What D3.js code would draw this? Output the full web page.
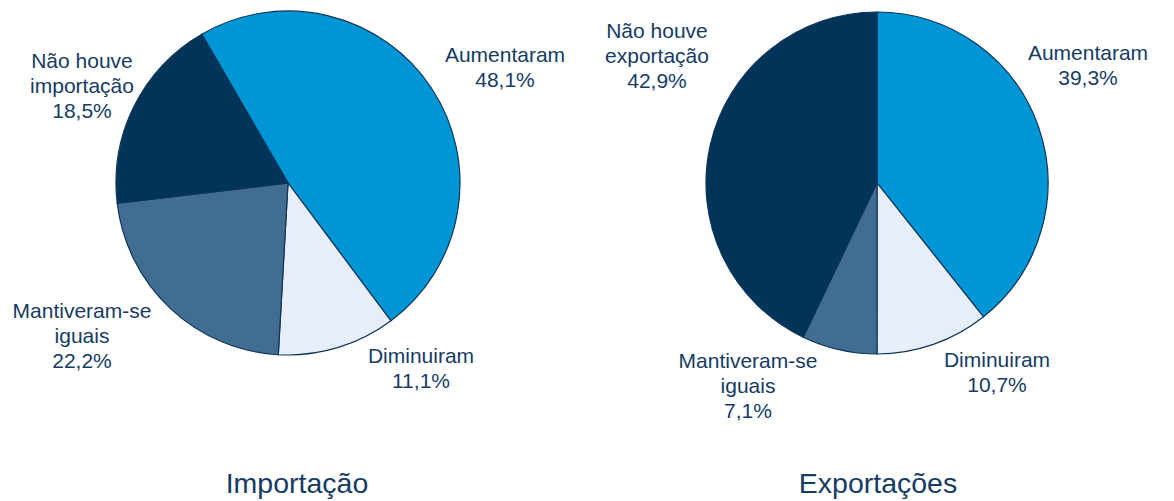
<!DOCTYPE html>
<html lang="pt">

<head>
    <meta charset="utf-8">
    <script src="https://d3js.org/d3.v7.min.js"></script>
    <style>
        body {
            margin: 0;
            background: #ffffff;
        }

        .slice {
            stroke: #0d3558;
            stroke-width: 1.2;
        }

        .label {
            font-family: "Liberation Sans", Arial, sans-serif;
            font-size: 21px;
            fill: #163c64;
        }

        .title {
            font-family: "Liberation Sans", Arial, sans-serif;
            font-size: 28.5px;
            fill: #163c64;
        }
    </style>
</head>

<body>
    <svg width="1174" height="501"></svg>

    <script>
        // categories, in drawing order (clockwise)
        var categories = ["Aumentaram", "Diminuiram", "Mantiveram-se iguais", "Não houve"];

        // shares, in %
        var importValues = [48.1, 11.1, 22.2, 18.5];
        var exportValues = [39.3, 10.7, 7.1, 42.9];

        // text shown on the labels
        var importLabels = [["Aumentaram"], ["Diminuiram"], ["Mantiveram-se", "iguais"], ["Não houve", "importação"]];
        var exportLabels = [["Aumentaram"], ["Diminuiram"], ["Mantiveram-se", "iguais"], ["Não houve", "exportação"]];

        var titles = ["Importação", "Exportações"];

        var color = d3.scaleOrdinal()
            .domain(categories)
            .range(["#0096d6", "#e8eef8", "#426d92", "#003459"]);

        var svg = d3.select("svg");

        // layout for each pie
        var pies = [{
                values: importValues,
                labels: importLabels,
                title: titles[0],
                cx: 288,
                cy: 183,
                r: 172,
                start: -30.1, // degrees, pie rotated
                labelPos: [[505, 62], [421, 363], [82, 318], [82, 68]],
                titleX: 297
            },
            {
                values: exportValues,
                labels: exportLabels,
                title: titles[1],
                cx: 877,
                cy: 183,
                r: 171,
                start: 0,
                labelPos: [[1088, 60], [997, 367], [748, 368], [657, 38]],
                titleX: 878
            }
        ];

        pies.forEach(function (p) {
            var data = categories.map(function (c, i) {
                return { cat: c, value: p.values[i], lines: p.labels[i] };
            });

            var pie = d3.pie()
                .sort(null)
                .value(function (d) { return d.value; })
                .startAngle(p.start * Math.PI / 180)
                .endAngle((p.start + 360) * Math.PI / 180);

            var arc = d3.arc().innerRadius(0).outerRadius(p.r);

            var g = svg.append("g")
                .attr("transform", "translate(" + p.cx + "," + p.cy + ")");

            g.selectAll(".slice")
                .data(pie(data))
                .enter().append("path")
                .attr("class", "slice")
                .attr("d", arc)
                .attr("fill", function (d) { return color(d.data.cat); });

            // labels
            data.forEach(function (d, i) {
                var t = svg.append("text")
                    .attr("class", "label")
                    .attr("text-anchor", "middle")
                    .attr("x", p.labelPos[i][0])
                    .attr("y", p.labelPos[i][1]);
                var lines = d.lines.concat([d3.format(".1f")(d.value).replace(".", ",") + "%"]);
                lines.forEach(function (l, j) {
                    t.append("tspan")
                        .attr("x", p.labelPos[i][0])
                        .attr("dy", j === 0 ? 0 : 25)
                        .text(l);
                });
            });

            svg.append("text")
                .attr("class", "title")
                .attr("text-anchor", "middle")
                .attr("x", p.titleX)
                .attr("y", 493)
                .text(p.title);
        });
    </script>
</body>

</html>
